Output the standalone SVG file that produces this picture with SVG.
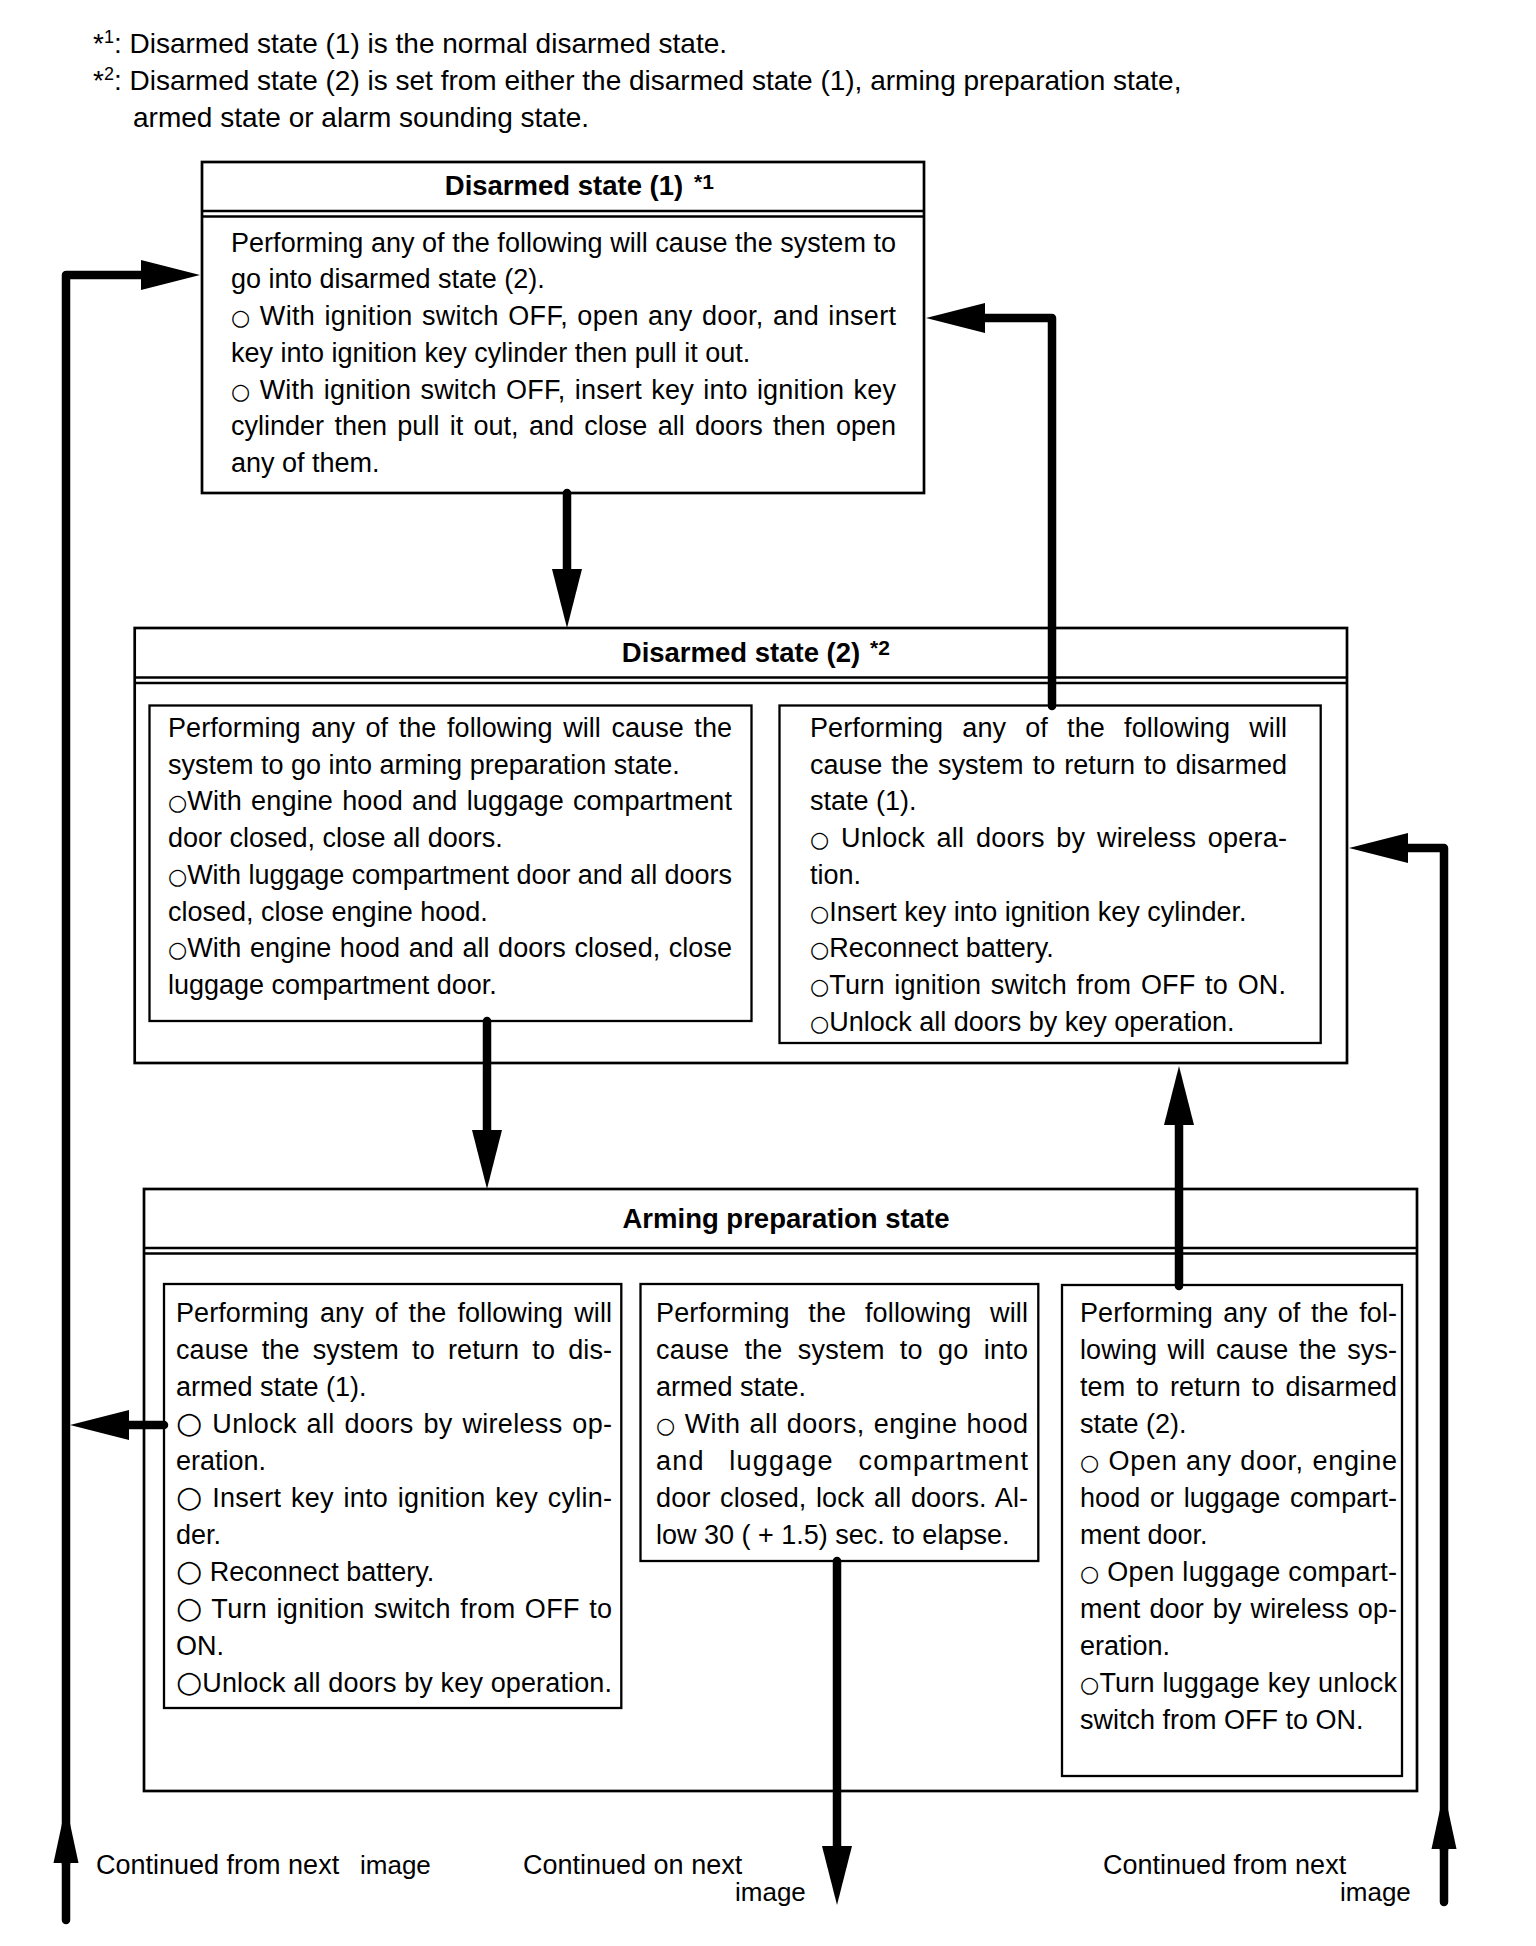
<svg xmlns="http://www.w3.org/2000/svg" width="1536" height="1946" viewBox="0 0 1536 1946">
<defs>
<style>
.box{fill:none;stroke:#000;stroke-width:2.7}
.inner{fill:none;stroke:#000;stroke-width:2.3}
.dl{stroke:#000;stroke-width:2.6}
.t{font-family:"Liberation Sans",Arial,Helvetica,sans-serif;font-size:27px;fill:#000}
.fn{font-size:28px}
.h{font-weight:bold;font-size:27.5px;text-anchor:middle}
.sup{font-family:"Liberation Sans",Arial,sans-serif;font-weight:bold;font-size:21px;fill:#000}
.o{font-family:"DejaVu Sans",sans-serif;font-size:22px}
.big{font-family:"DejaVu Sans",sans-serif;font-size:30px}
.c{fill:none;stroke:#000;stroke-width:8.5;stroke-linejoin:round;stroke-linecap:round}
.lbl{font-size:27px}
.img{font-size:26px}
</style>
<marker id="ah" markerUnits="userSpaceOnUse" markerWidth="60" markerHeight="32" refX="0" refY="15" orient="auto" overflow="visible">
<path d="M-2,0 L57,15 L-2,30 Z" fill="#000"/>
</marker>
<marker id="ah2" markerUnits="userSpaceOnUse" markerWidth="60" markerHeight="28" refX="0" refY="12.5" orient="auto" overflow="visible">
<path d="M0,0 L58,12.5 L0,25 Z" fill="#000"/>
</marker>
</defs>
<rect x="0" y="0" width="1536" height="1946" fill="#fff"/>

<g id="notes">
<text class="t fn" x="93" y="53">*<tspan font-size="18" dy="-10">1</tspan><tspan dy="10">: Disarmed state (1) is the normal disarmed state.</tspan></text>
<text class="t fn" x="93" y="90">*<tspan font-size="18" dy="-10">2</tspan><tspan dy="10">: Disarmed state (2) is set from either the disarmed state (1), arming preparation state,</tspan></text>
<text class="t fn" x="133" y="127">armed state or alarm sounding state.</text>
</g>

<g id="node-disarmed1">
<rect class="box" x="202" y="162" width="722" height="331"/>
<line class="dl" x1="202" y1="211" x2="924" y2="211"/>
<line class="dl" x1="202" y1="216.5" x2="924" y2="216.5"/>
<text class="t h" x="564" y="195">Disarmed state (1)</text>
<text class="sup" x="694" y="189">*1</text>
<text class="t" x="231" y="251.7" textLength="665" lengthAdjust="spacing">Performing any of the following will cause the system to</text>
<text class="t" x="231" y="288.4">go into disarmed state (2).</text>
<text class="t" x="231" y="325.1" textLength="665" lengthAdjust="spacing" word-spacing="1.5"><tspan class="o">○</tspan> With ignition switch OFF, open any door, and insert</text>
<text class="t" x="231" y="361.8">key into ignition key cylinder then pull it out.</text>
<text class="t" x="231" y="398.5" textLength="665" lengthAdjust="spacing" word-spacing="1.5"><tspan class="o">○</tspan> With ignition switch OFF, insert key into ignition key</text>
<text class="t" x="231" y="435.2" textLength="665" lengthAdjust="spacing" word-spacing="2.8">cylinder then pull it out, and close all doors then open</text>
<text class="t" x="231" y="471.9">any of them.</text>
</g>

<g id="node-disarmed2">
<rect class="box" x="134.7" y="628" width="1212.3" height="435"/>
<line class="dl" x1="134.7" y1="677.5" x2="1347" y2="677.5"/>
<line class="dl" x1="134.7" y1="683" x2="1347" y2="683"/>
<text class="t h" x="741" y="661.7">Disarmed state (2)</text>
<text class="sup" x="870" y="655">*2</text>
<g id="node-disarmed2-arm">
<rect class="inner" x="149.5" y="705.5" width="602" height="315.5"/>
<text class="t" x="168" y="737" textLength="564" lengthAdjust="spacing" word-spacing="3">Performing any of the following will cause the</text>
<text class="t" x="168" y="773.7">system to go into arming preparation state.</text>
<text class="t" x="168" y="810.4" textLength="564" lengthAdjust="spacing" word-spacing="1.5"><tspan class="o">○</tspan>With engine hood and luggage compartment</text>
<text class="t" x="168" y="847.1">door closed, close all doors.</text>
<text class="t" x="168" y="883.8" textLength="564" lengthAdjust="spacing"><tspan class="o">○</tspan>With luggage compartment door and all doors</text>
<text class="t" x="168" y="920.5">closed, close engine hood.</text>
<text class="t" x="168" y="957.2" textLength="564" lengthAdjust="spacing" word-spacing="1"><tspan class="o">○</tspan>With engine hood and all doors closed, close</text>
<text class="t" x="168" y="993.9">luggage compartment door.</text>
</g>
<g id="node-disarmed2-return">
<rect class="inner" x="779.5" y="705.5" width="541.2" height="337.5"/>
<text class="t" x="810" y="737" textLength="477" lengthAdjust="spacing" word-spacing="11.5">Performing any of the following will</text>
<text class="t" x="810" y="773.7" textLength="477" lengthAdjust="spacing" word-spacing="1.5">cause the system to return to disarmed</text>
<text class="t" x="810" y="810.4">state (1).</text>
<text class="t" x="810" y="847.1" textLength="477" lengthAdjust="spacing" word-spacing="4"><tspan class="o">○</tspan> Unlock all doors by wireless opera-</text>
<text class="t" x="810" y="883.8">tion.</text>
<text class="t" x="810" y="920.5"><tspan class="o">○</tspan>Insert key into ignition key cylinder.</text>
<text class="t" x="810" y="957.2"><tspan class="o">○</tspan>Reconnect battery.</text>
<text class="t" x="810" y="993.9" textLength="476" lengthAdjust="spacing" word-spacing="2"><tspan class="o">○</tspan>Turn ignition switch from OFF to ON.</text>
<text class="t" x="810" y="1030.6"><tspan class="o">○</tspan>Unlock all doors by key operation.</text>
</g>
</g>

<g id="node-arming">
<rect class="box" x="144" y="1189" width="1273" height="602"/>
<line class="dl" x1="144" y1="1248" x2="1417" y2="1248"/>
<line class="dl" x1="144" y1="1253.5" x2="1417" y2="1253.5"/>
<text class="t h" x="786" y="1228">Arming preparation state</text>
<g id="node-arming-return1">
<rect class="inner" x="164" y="1284" width="457.3" height="424"/>
<text class="t" x="176" y="1322" textLength="436" lengthAdjust="spacing" word-spacing="3.5">Performing any of the following will</text>
<text class="t" x="176" y="1359" textLength="436" lengthAdjust="spacing" word-spacing="5.5">cause the system to return to dis-</text>
<text class="t" x="176" y="1396">armed state (1).</text>
<text class="t" x="176" y="1433" textLength="436" lengthAdjust="spacing" word-spacing="2"><tspan class="big">○</tspan> Unlock all doors by wireless op-</text>
<text class="t" x="176" y="1470">eration.</text>
<text class="t" x="176" y="1507" textLength="436" lengthAdjust="spacing" word-spacing="2"><tspan class="big">○</tspan> Insert key into ignition key cylin-</text>
<text class="t" x="176" y="1544">der.</text>
<text class="t" x="176" y="1581"><tspan class="big">○</tspan> Reconnect battery.</text>
<text class="t" x="176" y="1618" textLength="436" lengthAdjust="spacing" word-spacing="1.5"><tspan class="big">○</tspan> Turn ignition switch from OFF to</text>
<text class="t" x="176" y="1655">ON.</text>
<text class="t" x="176" y="1692" textLength="436" lengthAdjust="spacing"><tspan class="big">○</tspan>Unlock all doors by key operation.</text>
</g>
<g id="node-arming-armed">
<rect class="inner" x="640.5" y="1284" width="397.8" height="277"/>
<text class="t" x="656" y="1322" textLength="372" lengthAdjust="spacing" word-spacing="11">Performing the following will</text>
<text class="t" x="656" y="1359" textLength="372" lengthAdjust="spacing" word-spacing="7.5">cause the system to go into</text>
<text class="t" x="656" y="1396">armed state.</text>
<text class="t" x="656" y="1433" textLength="372" lengthAdjust="spacing" word-spacing="1"><tspan class="o">○</tspan> With all doors, engine hood</text>
<text class="t" x="656" y="1470" textLength="372" lengthAdjust="spacing" word-spacing="16">and luggage compartment</text>
<text class="t" x="656" y="1507" textLength="372" lengthAdjust="spacing" word-spacing="2">door closed, lock all doors. Al-</text>
<text class="t" x="656" y="1544">low 30 ( + 1.5) sec. to elapse.</text>
</g>
<g id="node-arming-return2">
<rect class="inner" x="1062" y="1285" width="340" height="491"/>
<text class="t" x="1080" y="1322" textLength="317" lengthAdjust="spacing" word-spacing="3">Performing any of the fol-</text>
<text class="t" x="1080" y="1359" textLength="317" lengthAdjust="spacing" word-spacing="3">lowing will cause the sys-</text>
<text class="t" x="1080" y="1396" textLength="317" lengthAdjust="spacing" word-spacing="3.5">tem to return to disarmed</text>
<text class="t" x="1080" y="1433">state (2).</text>
<text class="t" x="1080" y="1470" textLength="317" lengthAdjust="spacing" word-spacing="0.5"><tspan class="o">○</tspan> Open any door, engine</text>
<text class="t" x="1080" y="1507" textLength="317" lengthAdjust="spacing" word-spacing="2">hood or luggage compart-</text>
<text class="t" x="1080" y="1544">ment door.</text>
<text class="t" x="1080" y="1581" textLength="317" lengthAdjust="spacing"><tspan class="o">○</tspan> Open luggage compart-</text>
<text class="t" x="1080" y="1618" textLength="317" lengthAdjust="spacing" word-spacing="1.5">ment door by wireless op-</text>
<text class="t" x="1080" y="1655">eration.</text>
<text class="t" x="1080" y="1692" textLength="317" lengthAdjust="spacing"><tspan class="o">○</tspan>Turn luggage key unlock</text>
<text class="t" x="1080" y="1729">switch from OFF to ON.</text>
</g>
</g>

<g id="connectors">
<path class="c" d="M66,1920 V275 H143" marker-end="url(#ah)"/>
<path class="c" d="M66,1864 V1863" marker-end="url(#ah2)"/>
<path class="c" d="M567,493 V571" marker-end="url(#ah)"/>
<path class="c" d="M1052,706 V318 H983" marker-end="url(#ah)"/>
<path class="c" d="M1444,1902 V848 H1406" marker-end="url(#ah)"/>
<path class="c" d="M1444,1850 V1849" marker-end="url(#ah2)"/>
<path class="c" d="M487,1021 V1132" marker-end="url(#ah)"/>
<path class="c" d="M837,1561 V1848" marker-end="url(#ah)"/>
<path class="c" d="M1179,1286 V1123" marker-end="url(#ah)"/>
<path class="c" d="M164,1425 H127" marker-end="url(#ah)"/>
</g>

<g id="labels">
<text class="t lbl" x="96" y="1874">Continued from next<tspan class="img" x="360">image</tspan></text>
<text class="t lbl" x="523" y="1874">Continued on next</text>
<text class="t img" x="735" y="1901">image</text>
<text class="t lbl" x="1103" y="1874">Continued from next</text>
<text class="t img" x="1340" y="1901">image</text>
</g>
</svg>
